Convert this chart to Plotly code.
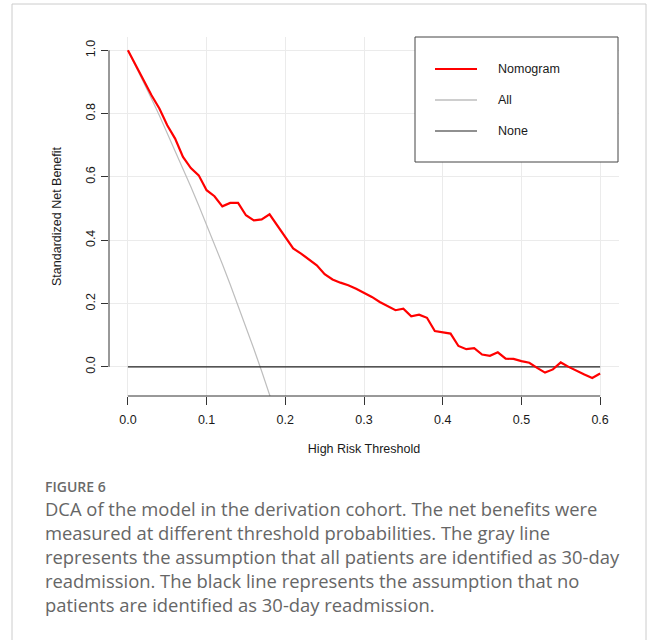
import plotly.graph_objects as go

# ---------------- data ----------------
thresholds = [round(0.01 * k, 2) for k in range(61)]
nomogram = [1.000, 0.952, 0.905, 0.858, 0.816, 0.763, 0.721, 0.663, 0.628, 0.605,
            0.558, 0.539, 0.507, 0.518, 0.518, 0.479, 0.463, 0.466, 0.482, 0.447,
            0.410, 0.374, 0.358, 0.339, 0.321, 0.293, 0.276, 0.266, 0.258, 0.247,
            0.234, 0.221, 0.205, 0.192, 0.179, 0.184, 0.160, 0.165, 0.155, 0.113,
            0.110, 0.105, 0.066, 0.056, 0.059, 0.039, 0.035, 0.046, 0.026, 0.025,
            0.018, 0.013, -0.003, -0.018, -0.008, 0.014, 0.000, -0.013, -0.024, -0.035,
            -0.021]
all_thresholds = [0.00, 0.01, 0.02, 0.03, 0.04, 0.05, 0.06, 0.07, 0.08, 0.09, 0.10,
                  0.11, 0.12, 0.13, 0.14, 0.15, 0.16, 0.17, 0.18, 0.19]
all_values = [1.000, 0.950, 0.899, 0.847, 0.794, 0.739, 0.684, 0.627, 0.569, 0.510,
              0.450, 0.388, 0.325, 0.260, 0.194, 0.126, 0.057, -0.014, -0.087, -0.162]
none_thresholds = [0.0, 0.6]
none_values = [0.0, 0.0]

x_ticks = [0.0, 0.1, 0.2, 0.3, 0.4, 0.5, 0.6]
x_ticklabels = ["0.0", "0.1", "0.2", "0.3", "0.4", "0.5", "0.6"]
y_ticks = [0.0, 0.2, 0.4, 0.6, 0.8, 1.0]
y_ticklabels = ["0.0", "0.2", "0.4", "0.6", "0.8", "1.0"]

legend_names = ["Nomogram", "All", "None"]
caption_title = "FIGURE 6"
caption_lines = [
    "DCA of the model in the derivation cohort. The net benefits were",
    "measured at different threshold probabilities. The gray line",
    "represents the assumption that all patients are identified as 30-day",
    "readmission. The black line represents the assumption that no",
    "patients are identified as 30-day readmission.",
]

# ---------------- layout geometry (pixels) ----------------
W, H = 658, 640
L, R, T, B = 109, 619, 37, 396
PW, PH = R - L, B - T


def px(x):
    return (x - L) / PW


def py(y):
    return (B - y) / PH


FONT = "Liberation Sans, Arial, sans-serif"
RED = "#FF0000"
GRAY = "#BEBEBE"
BLACK = "#222222"
TXT = "#1a1a1a"

fig = go.Figure()
fig.add_trace(go.Scatter(x=all_thresholds, y=all_values, mode="lines", name=legend_names[1],
                         line=dict(color=GRAY, width=1.2), showlegend=False))
fig.add_trace(go.Scatter(x=none_thresholds, y=none_values, mode="lines", name=legend_names[2],
                         line=dict(color=BLACK, width=1.2), showlegend=False))
fig.add_trace(go.Scatter(x=thresholds, y=nomogram, mode="lines", name=legend_names[0],
                         line=dict(color=RED, width=2.2), showlegend=False))

shapes = []
annotations = []

# outer frame
shapes.append(dict(type="rect", xref="paper", yref="paper", x0=px(12), x1=px(646),
                   y0=py(655), y1=py(4), line=dict(color="#CCCCCC", width=1), layer="below"))
# axis lines spanning tick range
shapes.append(dict(type="line", xref="x", yref="paper", x0=x_ticks[0], x1=x_ticks[-1],
                   y0=0, y1=0, line=dict(color="#333333", width=1)))
shapes.append(dict(type="line", xref="paper", yref="y", x0=0, x1=0,
                   y0=y_ticks[0], y1=y_ticks[-1], line=dict(color="#333333", width=1)))

# manual legend box
shapes.append(dict(type="rect", xref="paper", yref="paper", x0=px(415), x1=px(618),
                   y0=py(162), y1=py(37), line=dict(color="#444444", width=1),
                   fillcolor="white", layer="above"))
leg_colors = [RED, GRAY, BLACK]
leg_widths = [2.2, 1.5, 1.2]
for i, (name, c, w) in enumerate(zip(legend_names, leg_colors, leg_widths)):
    yy = 69 + 31 * i
    shapes.append(dict(type="line", xref="paper", yref="paper", x0=px(435), x1=px(477),
                       y0=py(yy), y1=py(yy), line=dict(color=c, width=w), layer="above"))
    annotations.append(dict(xref="paper", yref="paper", x=px(496), y=py(yy), text=name,
                            showarrow=False, xanchor="left", yanchor="middle",
                            font=dict(family=FONT, size=12.5, color=TXT)))

# caption
annotations.append(dict(xref="paper", yref="paper", x=px(43), y=py(486), text=caption_title,
                        showarrow=False, xanchor="left", yanchor="middle",
                        font=dict(family="Open Sans, sans-serif", size=14, color="#6a6a6a",
                                  weight=600)))
for i, line in enumerate(caption_lines):
    annotations.append(dict(xref="paper", yref="paper", x=px(43), y=py(508 + 24.2 * i),
                            text=line, showarrow=False, xanchor="left", yanchor="middle",
                            font=dict(family="Open Sans, sans-serif", size=18.4,
                                      color="#666666")))

fig.update_layout(
    width=W, height=H,
    margin=dict(l=L, r=W - R, t=T, b=H - B, pad=0),
    paper_bgcolor="white", plot_bgcolor="white",
    showlegend=False,
    shapes=shapes, annotations=annotations,
    xaxis=dict(range=[-0.024, 0.624], tickvals=x_ticks, ticktext=x_ticklabels,
               showgrid=True, gridcolor="#EBEBEB", gridwidth=1, zeroline=False,
               showline=False, ticks="outside", ticklen=8, tickcolor="#333333",
               ticklabelstandoff=4,
               tickfont=dict(family=FONT, size=12.5, color=TXT),
               title=dict(text="High Risk Threshold", standoff=18,
                          font=dict(family=FONT, size=12.5, color=TXT))),
    yaxis=dict(range=[-0.092, 1.042], tickvals=y_ticks, ticktext=y_ticklabels,
               showgrid=True, gridcolor="#EBEBEB", gridwidth=1, zeroline=False,
               showline=False, ticks="outside", ticklen=7, tickcolor="#333333",
               tickangle=-90, ticklabelstandoff=1,
               tickfont=dict(family=FONT, size=12.5, color=TXT),
               title=dict(text="Standardized Net Benefit", standoff=19,
                          font=dict(family=FONT, size=12.5, color=TXT))),
)

fig.write_html("out.html")
